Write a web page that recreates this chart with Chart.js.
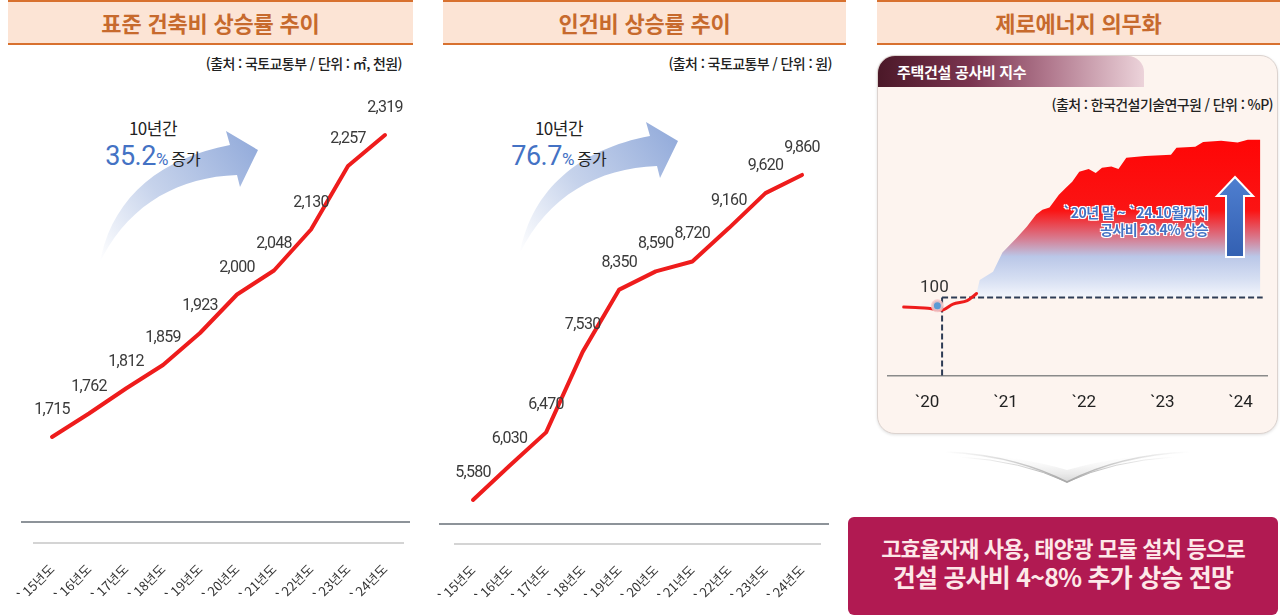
<!DOCTYPE html>
<html lang="ko">
<head>
<meta charset="utf-8">
<title>공사비 상승 추이</title>
<script src="https://cdn.jsdelivr.net/npm/chart.js@4.4.1/dist/chart.umd.min.js"></script>
<style>
  html, body { margin: 0; padding: 0; }
  body {
    width: 1280px; height: 616px; position: relative; overflow: hidden; background: #fff;
    font-family: "Noto Sans CJK KR", "Noto Sans", sans-serif; color: #333;
  }
  canvas { position: absolute; }
  .head {
    position: absolute; top: 0; height: 41px; background: #fce4d5;
    border-top: 2px solid #d8712f; border-bottom: 2px solid #d8712f;
    color: #c76a2d; font-weight: 700; font-size: 22px; line-height: 41px;
    text-align: center; letter-spacing: -0.2px;
  }
  .src {
    position: absolute; font-size: 14px; line-height: 18px; color: #222; font-weight: 500;
    white-space: nowrap; letter-spacing: -0.6px;
  }
  .rule { position: absolute; height: 2px; background: #8d9399; }
  .growth { position: absolute; width: 200px; text-align: center; color: #222; }
  .growth .g1 { font-size: 17px; line-height: 24px; letter-spacing: -0.5px; }
  .growth .g2 { line-height: 32px; font-size: 16px; }
  .growth .pct { font-family: Roboto, sans-serif; font-size: 27px; color: #4472c4; letter-spacing: -0.5px; }
  .growth .pc { font-family: Roboto, sans-serif; font-size: 17px; color: #4472c4; margin-right: 3px; }
  .card {
    position: absolute; left: 877px; top: 55px; width: 401px; height: 379px; box-sizing: border-box;
    border: 1.5px solid #dcd3cf; border-radius: 18px; background: #fdf4ef;
    box-shadow: 0 1px 3px rgba(0,0,0,0.12);
  }
  .tab {
    position: absolute; left: 0; top: 0; width: 266px; height: 31px;
    border-radius: 17px 16px 0 0;
    background: linear-gradient(to right, #4b1828 0%, #7b3550 35%, #b27a8f 65%, #ecd3da 100%);
    color: #fff; font-weight: 700; font-size: 15px; line-height: 31px; padding-left: 19px;
    box-sizing: border-box; letter-spacing: -0.3px;
  }
  .note {
    position: absolute; right: 72px; top: 204px; text-align: right;
    font-size: 14px; font-weight: 700; line-height: 17px; color: #4472c4; letter-spacing: -0.6px;
    text-shadow: -1px -1px 0 #fff, 1px -1px 0 #fff, -1px 1px 0 #fff, 1px 1px 0 #fff, 0 0 2px #fff;
  }
  .box {
    position: absolute; left: 848px; top: 517px; width: 430px; height: 98px;
    background: #b11a52; border-radius: 6px; color: #fde8e8; text-align: center; font-weight: 700;
  }
  .box .l1 { font-size: 22px; line-height: 27px; margin-top: 17px; letter-spacing: -0.8px; }
  .box .l2 { font-size: 25px; line-height: 31px; letter-spacing: -0.8px; }
  svg { position: absolute; left: 0; top: 0; }
</style>
</head>
<body>

<div class="head" style="left:8px; width:405px;">표준 건축비 상승률 추이</div>
<div class="head" style="left:443px; width:403px;">인건비 상승률 추이</div>
<div class="head" style="left:877px; width:403px;">제로에너지 의무화</div>

<div class="src" style="right:878px; top:54px;">(출처 : 국토교통부 / 단위 : ㎡, 천원)</div>
<div class="src" style="right:448px; top:54px;">(출처 : 국토교통부 / 단위 : 원)</div>

<svg width="1280" height="616">
  <defs>
    <linearGradient id="arrowFade" gradientUnits="userSpaceOnUse" x1="100" y1="262" x2="258" y2="150">
      <stop offset="0" stop-color="#a0b5de" stop-opacity="0"/>
      <stop offset="0.45" stop-color="#a0b5de" stop-opacity="0.6"/>
      <stop offset="1" stop-color="#94acdb" stop-opacity="1"/>
    </linearGradient>
    <linearGradient id="chevFill" x1="0" y1="0" x2="0" y2="1">
      <stop offset="0" stop-color="#ffffff" stop-opacity="0"/>
      <stop offset="1" stop-color="#c9c9c9" stop-opacity="0.8"/>
    </linearGradient>
    <linearGradient id="chevLine" x1="0" y1="0" x2="1" y2="0">
      <stop offset="0" stop-color="#bdbdbd" stop-opacity="0"/>
      <stop offset="0.5" stop-color="#a9a9a9" stop-opacity="1"/>
      <stop offset="1" stop-color="#bdbdbd" stop-opacity="0"/>
    </linearGradient>
  </defs>
  <path d="M100,262 C112,198 160,158 230,145 L226,131 L258,150 L240,187 L237,175 C178,177 128,205 100,262 Z" fill="url(#arrowFade)"/>
  <g transform="translate(420,-9)">
    <path d="M100,262 C112,198 160,158 230,145 L226,131 L258,150 L240,187 L237,175 C178,177 128,205 100,262 Z" fill="url(#arrowFade)"/>
  </g>
</svg>

<div class="growth" style="left:53px; top:116px;">
  <div class="g1">10년간</div>
  <div class="g2"><span class="pct">35.2</span><span class="pc">%</span>증가</div>
</div>
<div class="growth" style="left:459px; top:116px;">
  <div class="g1">10년간</div>
  <div class="g2"><span class="pct">76.7</span><span class="pc">%</span>증가</div>
</div>

<div class="rule" style="left:21px; top:521px; width:389px;"></div>
<div class="rule" style="left:439px; top:523px; width:390px;"></div>

<canvas id="stdChart" width="450" height="536" style="left:-30px; top:80px;"></canvas>
<canvas id="laborChart" width="450" height="536" style="left:400px; top:80px;"></canvas>

<div class="card"><div class="tab">주택건설 공사비 지수</div></div>
<div class="src" style="right:7px; top:95px;">(출처 : 한국건설기술연구원 / 단위 : %P)</div>

<canvas id="idxChart" width="395" height="320" style="left:880px; top:110px;"></canvas>

<div class="note">`20년 말 ~ `24.10월까지<br>공사비 28.4% 상승</div>

<svg width="1280" height="616" style="pointer-events:none;">
  <defs>
    <linearGradient id="upArrow" x1="0" y1="0" x2="0" y2="1">
      <stop offset="0" stop-color="#4f7fd0"/>
      <stop offset="1" stop-color="#3360b2"/>
    </linearGradient>
  </defs>
  <polygon points="1235,177 1253,196 1244,196 1244,257 1226,257 1226,196 1217,196"
           fill="url(#upArrow)" stroke="#fff" stroke-width="2" stroke-linejoin="miter"/>
  <path d="M945,452 Q1015,455 1067,470 Q1119,455 1189,452 Q1119,458 1067,483 Q1015,458 945,452 Z" fill="url(#chevFill)"/>
  <path d="M945,452 Q1015,455 1067,482 Q1119,455 1189,452" fill="none" stroke="url(#chevLine)" stroke-width="1.5"/>
  <path d="M960,457 Q1022,461 1067,482 Q1112,461 1174,457" fill="none" stroke="url(#chevLine)" stroke-width="1"/>
</svg>

<div class="box">
  <div class="l1">고효율자재 사용, 태양광 모듈 설치 등으로</div>
  <div class="l2">건설 공사비 4~8% 추가 상승 전망</div>
</div>

<script>
document.addEventListener('DOMContentLoaded', function () {

    /* DATA */

    const years = ['`15년도', '`16년도', '`17년도', '`18년도', '`19년도', '`20년도', '`21년도', '`22년도', '`23년도', '`24년도'];
    const stdCost = [1715, 1762, 1812, 1859, 1923, 2000, 2048, 2130, 2257, 2319];
    const laborCost = [5580, 6030, 6470, 7530, 8350, 8590, 8720, 9160, 9620, 9860];

    const idxTickYears = [2020, 2021, 2022, 2023, 2024];
    const idxLineX = [2019.70, 2019.85, 2020.01, 2020.20, 2020.33, 2020.51, 2020.63];
    const idxLineY = [99.8, 99.7, 99.6, 99.3, 100.3, 100.9, 102.1];
    const idxAreaX = [2020.63, 2020.67, 2020.84, 2020.96, 2021.14, 2021.27, 2021.39, 2021.47, 2021.56, 2021.68,
                      2021.77, 2021.85, 2021.94, 2022.06, 2022.15, 2022.23, 2022.35, 2022.44, 2022.54, 2022.78,
                      2023.11, 2023.18, 2023.42, 2023.52, 2023.75, 2023.96, 2024.09, 2024.25];
    const idxAreaY = [102.2, 104.4, 105.8, 109.1, 111.6, 113.5, 115.6, 116.4, 116.8, 119.0,
                      120.2, 121.2, 122.9, 123.4, 122.7, 123.6, 123.8, 123.4, 125.3, 125.6,
                      125.8, 127.0, 127.2, 128.0, 128.2, 127.9, 128.4, 128.4];
    const baseX = 2020.13, baseY = 100;
    const guideX = 2020.19, guideY = 101.4, guideEndX = 2024.28;
    const idxMin = 88, idxMax = 132;

    const RED = '#ee1c1c';

    /* VALUE LABELS */

    const valueLabels = {
        id: 'valueLabels',
        afterDatasetsDraw(chart, args, opts) {
            const c = chart.ctx;
            c.save();
            c.font = opts.font;
            c.fillStyle = opts.color;
            c.textAlign = 'center';
            c.textBaseline = 'middle';
            if ('letterSpacing' in c) c.letterSpacing = opts.spacing || '0px';
            chart.data.datasets.forEach((ds, i) => {
                if (!ds.showValues) return;
                chart.getDatasetMeta(i).data.forEach((pt, j) => {
                    const v = ds.data[j];
                    const val = typeof v === 'object' ? v.y : v;
                    c.fillText(val.toLocaleString('en-US'), pt.x + (opts.dx || 0), pt.y - opts.dy);
                });
            });
            c.restore();
        }
    };

    function yearLine(id, values, pad, yMin, yMax, axisH) {
        new Chart(document.getElementById(id), {
            type: 'line',
            data: {
                labels: years,
                datasets: [{
                    data: values,
                    borderColor: RED,
                    borderWidth: 4,
                    borderJoinStyle: 'round',
                    borderCapStyle: 'round',
                    pointRadius: 0,
                    tension: 0,
                    showValues: true
                }]
            },
            options: {
                responsive: false,
                animation: false,
                layout: { padding: pad },
                plugins: {
                    legend: { display: false },
                    tooltip: { enabled: false },
                    valueLabels: { dy: 27, font: '16px Roboto', color: '#3a3a3a', spacing: '-0.7px' }
                },
                scales: {
                    x: {
                        offset: true,
                        grid: { display: false, drawTicks: false },
                        border: { display: true, color: '#d4d4d4', width: 2 },
                        ticks: {
                            autoSkip: false, minRotation: 45, maxRotation: 45, padding: 18,
                            color: '#333', font: { family: 'Noto Sans CJK KR', size: 13 }
                        },
                        afterFit: s => { s.height = axisH; }
                    },
                    y: { display: false, min: yMin, max: yMax }
                }
            },
            plugins: [valueLabels]
        });
    }

    /* STANDARD BUILD COST */
    yearLine('stdChart', stdCost, { left: 63.5, right: 16.5, top: 0, bottom: 0 }, 1503, 2429, 73);

    /* LABOR COST */
    yearLine('laborChart', laborCost, { left: 54.7, right: 29.7, top: 0, bottom: 0 }, 5000, 11110, 72);

    /* HOUSING CONSTRUCTION COST INDEX */

    const pts = (xs, ys) => xs.map((x, i) => ({ x: x, y: ys[i] }));

    new Chart(document.getElementById('idxChart'), {
        type: 'line',
        data: {
            datasets: [
                {
                    data: [{ x: baseX, y: baseY }],
                    showLine: false,
                    pointRadius: 5,
                    pointBackgroundColor: '#5b9bd5',
                    pointBorderColor: 'rgba(246,196,196,0.85)',
                    pointBorderWidth: 3,
                    showValues: true,
                    order: 0
                },
                {
                    data: pts(idxLineX, idxLineY),
                    borderColor: RED,
                    borderWidth: 3,
                    borderCapStyle: 'round',
                    pointRadius: 0,
                    tension: 0.3,
                    order: 1
                },
                {
                    data: [{ x: guideX, y: guideY }, { x: guideEndX, y: guideY }],
                    borderColor: '#2e3c55',
                    borderWidth: 2,
                    borderDash: [6, 3],
                    pointRadius: 0,
                    order: 2
                },
                {
                    data: [{ x: guideX, y: guideY }, { x: guideX, y: idxMin }],
                    borderColor: '#2e3c55',
                    borderWidth: 2,
                    borderDash: [6, 3],
                    pointRadius: 0,
                    order: 2
                },
                {
                    data: pts(idxAreaX, idxAreaY),
                    borderWidth: 0,
                    pointRadius: 0,
                    tension: 0,
                    fill: { value: guideY },
                    backgroundColor: (ctx) => {
                        const chart = ctx.chart;
                        if (!chart.chartArea) return 'rgba(255,0,0,0.5)';
                        const y = chart.scales.y;
                        const g = chart.ctx.createLinearGradient(0, y.getPixelForValue(128.4), 0, y.getPixelForValue(guideY));
                        g.addColorStop(0, '#ff0606');
                        g.addColorStop(0.45, '#fb1414');
                        g.addColorStop(0.62, '#d8788c');
                        g.addColorStop(0.74, '#bac7e8');
                        g.addColorStop(0.88, '#d5def2');
                        g.addColorStop(1, '#f4f6fc');
                        return g;
                    },
                    order: 3
                }
            ]
        },
        options: {
            responsive: false,
            animation: false,
            layout: { padding: { left: 7, right: 6, top: 8.6, bottom: 0 } },
            plugins: {
                legend: { display: false },
                tooltip: { enabled: false },
                valueLabels: { dy: 18, dx: -3, font: '17px Roboto', color: '#333' }
            },
            scales: {
                x: {
                    type: 'linear',
                    min: 2019.5,
                    max: 2024.335,
                    grid: { display: false, drawTicks: false },
                    border: { display: true, color: '#8a8a8a', width: 1.5 },
                    afterBuildTicks: s => { s.ticks = idxTickYears.map(v => ({ value: v })); },
                    ticks: {
                        minRotation: 0, maxRotation: 0, padding: 17,
                        color: '#222', font: { family: 'Roboto', size: 17 },
                        callback: v => '`' + String(v).slice(2)
                    },
                    afterFit: s => { s.height = 54; }
                },
                y: { display: false, min: idxMin, max: idxMax }
            }
        },
        plugins: [valueLabels]
    });

});
</script>
</body>
</html>
